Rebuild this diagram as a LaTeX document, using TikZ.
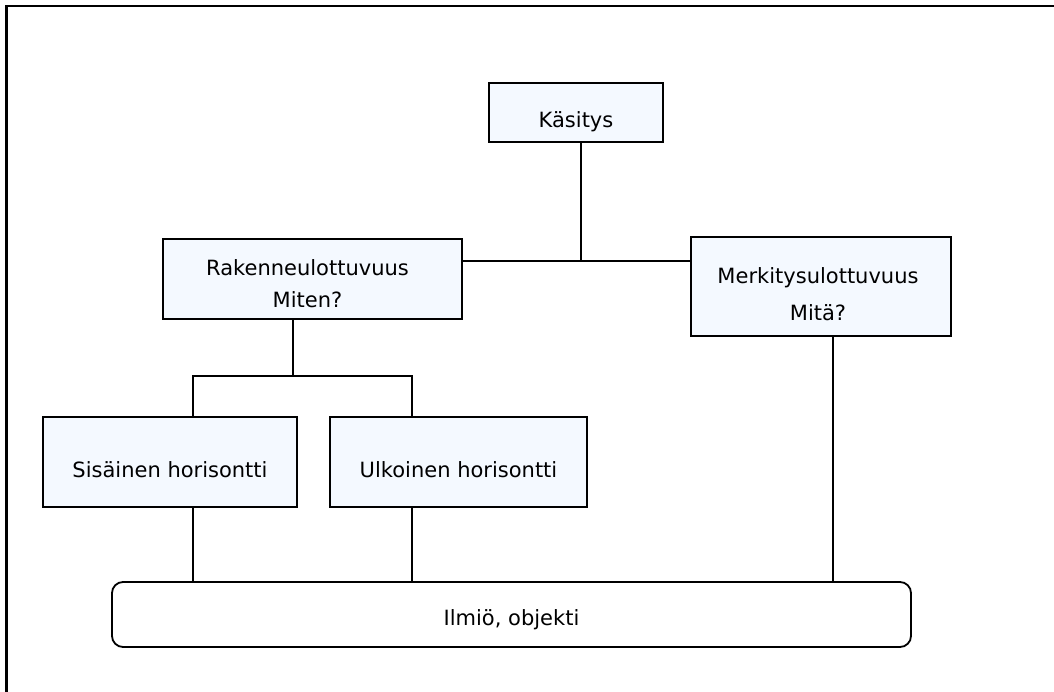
\documentclass[tikz,border=0pt]{standalone}
\usepackage{fontspec}
\setmainfont{DejaVu Sans}
\definecolor{boxfill}{RGB}{244,249,255}
\begin{document}
\begin{tikzpicture}[x=1pt,y=-1pt,
  box/.style={draw=black, line width=1.8pt, fill=boxfill, inner sep=0pt,
    font=\fontsize{21}{32}\selectfont, align=center},
  onebox/.style={box, text height=30pt, text depth=0pt},
  twobox/.style={box, text depth=0pt},
  base/.style={draw=black, line width=1.8pt, fill=white, rounded corners=11pt,
    inner sep=0pt, font=\fontsize{21}{32}\selectfont,
    text height=22pt, text depth=0pt},
  link/.style={draw=black, line width=1.4pt},
  frame/.style={draw=black, line width=2.4pt}]
\useasboundingbox (0,0) rectangle (1054,692);

% outer frame (top and left edges)
\draw[frame] (6.5,692) -- (6.5,6) -- (1054,6);

% boxes
\node[onebox, minimum width=174pt, minimum height=59pt] (kas) at (576,112.5) {Käsitys};
\node[twobox, text height=57.4pt, minimum width=299pt, minimum height=80pt] (rak) at (312.5,279)
  {Rakenneulottuvuus\hspace*{10pt}\\Miten?\hspace*{10pt}};
\node[twobox, text height=68pt, minimum width=260pt, minimum height=99pt] (mer) at (821,286.5)
  {Merkitysulottuvuus\hspace*{6pt}\\[5pt]Mitä?\hspace*{6pt}};
\node[onebox, minimum width=254pt, minimum height=90pt] (sis) at (170,462) {Sisäinen horisontti};
\node[onebox, minimum width=257pt, minimum height=90pt] (ulk) at (458.5,462) {Ulkoinen horisontti};
\node[base, minimum width=799pt, minimum height=65pt] (ilm) at (511.5,614.5) {Ilmiö, objekti};

% junction points
\coordinate (hub) at (581,261);
\coordinate (fork) at (293,376);
\coordinate (fl) at (193,376);
\coordinate (fr) at (412,376);
\coordinate (mx) at (833,582);

% connectors
\draw[link] (kas.south -| hub) -- (hub);
\draw[link] (hub -| rak.east) -- (hub -| mer.west);
\draw[link] (rak.south -| fork) -- (fork);
\draw[link] (sis.north -| fl) -- (fl) -- (fr) -- (ulk.north -| fr);
\draw[link] (sis.south -| fl) -- (ilm.north -| fl);
\draw[link] (ulk.south -| fr) -- (ilm.north -| fr);
\draw[link] (mer.south -| mx) -- (ilm.north -| mx);
\end{tikzpicture}
\end{document}
